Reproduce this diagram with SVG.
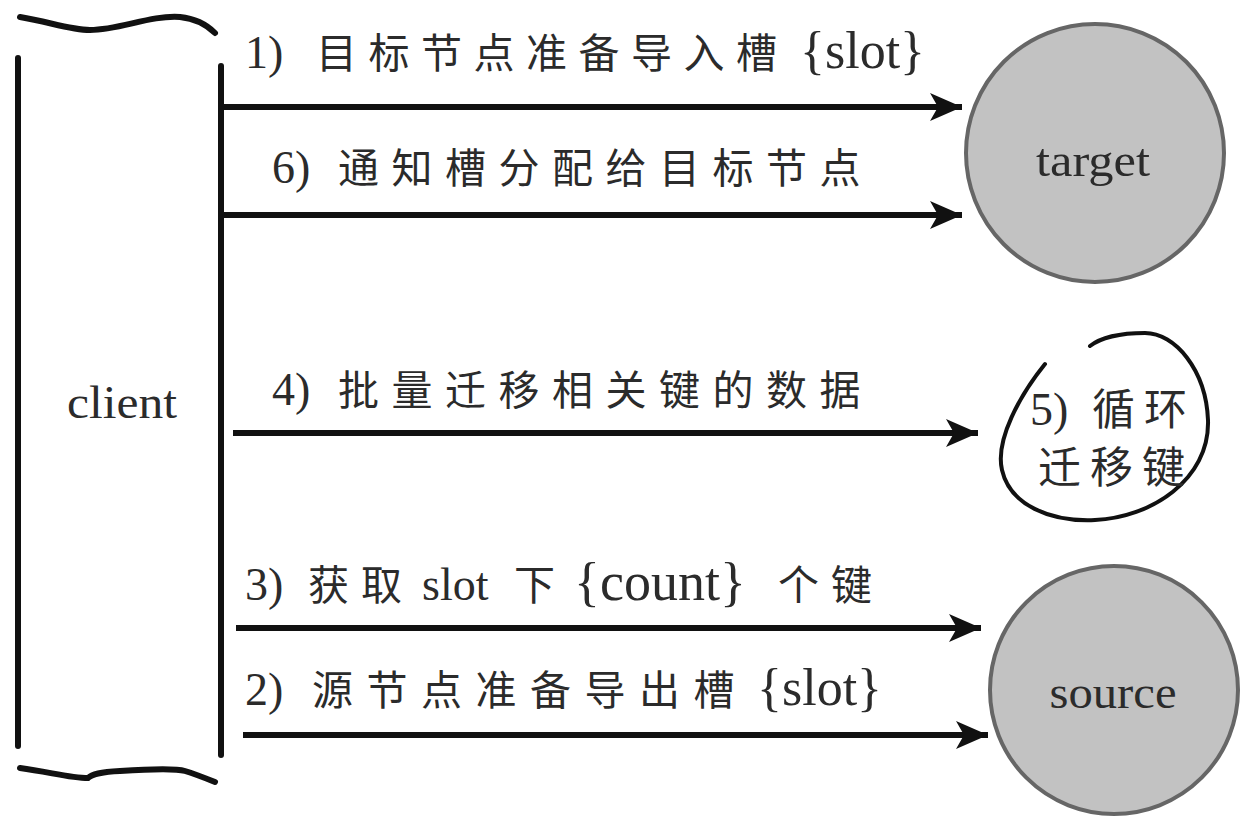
<svg xmlns="http://www.w3.org/2000/svg" width="1244" height="816" viewBox="0 0 1244 816">
<style>
.bg{fill:#ffffff}
.lbl{font-family:"Liberation Serif","Noto Sans CJK SC",serif;font-size:46px;fill:#2b2b2b}
.cjk{font-family:"Noto Sans CJK SC",sans-serif;font-size:41px;letter-spacing:12px}
.node-txt{font-family:"Liberation Serif",serif;font-size:46px;fill:#2b2b2b;text-anchor:middle}
.circ{fill:#c2c2c2;stroke:#666666;stroke-width:4}
.ink{fill:none;stroke:#111111;stroke-width:6;stroke-linecap:round}
.arrow{fill:none;stroke:#111111;stroke-width:6;marker-end:url(#head)}
.loop{fill:none;stroke:#111111;stroke-width:4;stroke-linecap:round}
</style>
<defs>
<marker id="head" markerUnits="userSpaceOnUse" markerWidth="34" markerHeight="30" refX="32" refY="15" orient="auto">
<path d="M0,1 L32,15 L0,29 L8,15 z" fill="#111111"/>
</marker>
</defs>
<rect class="bg" x="0" y="0" width="1244" height="816"/>
<g id="client">
<path class="ink" d="M20,17 C50,22 70,30 90,30 C120,30 150,15 180,17 C200,19 210,28 215,33"/>
<line class="ink" x1="18" y1="58" x2="18" y2="746"/>
<line class="ink" x1="221" y1="66" x2="221" y2="755"/>
<path class="ink" d="M20,768 C50,772 70,778 88,778 C92,774 100,772 120,771 C150,769 175,768 185,771 C195,774 205,778 215,782"/>
<text class="node-txt" x="122" y="418" textLength="110" lengthAdjust="spacingAndGlyphs">client</text>
</g>
<g id="target">
<circle class="circ" cx="1095" cy="153" r="129"/>
<text class="node-txt" x="1093" y="176" textLength="114" lengthAdjust="spacingAndGlyphs">target</text>
</g>
<g id="source">
<circle class="circ" cx="1114" cy="690" r="124"/>
<text class="node-txt" x="1113" y="708" textLength="127" lengthAdjust="spacingAndGlyphs">source</text>
</g>
<g id="loop5">
<path class="loop" d="M1045,364 C1020,395 995,440 1002,470 C1010,505 1050,522 1095,520 C1150,518 1210,480 1208,420 C1206,370 1175,333 1145,333 C1120,333 1100,338 1090,346"/>
<text class="lbl" x="1030" y="425">5)<tspan class="cjk" x="1092" style="font-size:43px;letter-spacing:9px">循环</tspan></text>
<text class="lbl" y="483"><tspan class="cjk" x="1038" style="font-size:43px;letter-spacing:9px">迁移键</tspan></text>
</g>
<g id="connectors">
<line class="arrow" x1="221" y1="107" x2="962" y2="107"/>
<line class="arrow" x1="221" y1="215" x2="962" y2="215"/>
<line class="arrow" x1="233" y1="433" x2="978" y2="433"/>
<line class="arrow" x1="236" y1="628" x2="981" y2="628"/>
<line class="arrow" x1="243" y1="735" x2="988" y2="735"/>
</g>
<g id="labels">
<text class="lbl" x="245" y="68">1)<tspan class="cjk" x="316" style="letter-spacing:11.5px">目标节点准备导入槽</tspan><tspan x="800" style="font-size:52px">{slot}</tspan></text>
<text class="lbl" x="272" y="183">6)<tspan class="cjk" x="338" style="letter-spacing:12.5px">通知槽分配给目标节点</tspan></text>
<text class="lbl" x="272" y="405">4)<tspan class="cjk" x="338" style="letter-spacing:12.5px">批量迁移相关键的数据</tspan></text>
<text class="lbl" x="245" y="600">3)<tspan class="cjk" x="308">获取</tspan><tspan x="422">slot</tspan><tspan class="cjk" x="514">下</tspan><tspan x="574" style="font-size:54px">{count}</tspan><tspan class="cjk" x="778">个键</tspan></text>
<text class="lbl" x="245" y="705">2)<tspan class="cjk" x="312" style="letter-spacing:13.5px">源节点准备导出槽</tspan><tspan x="757" style="font-size:52px">{slot}</tspan></text>
</g>
</svg>
